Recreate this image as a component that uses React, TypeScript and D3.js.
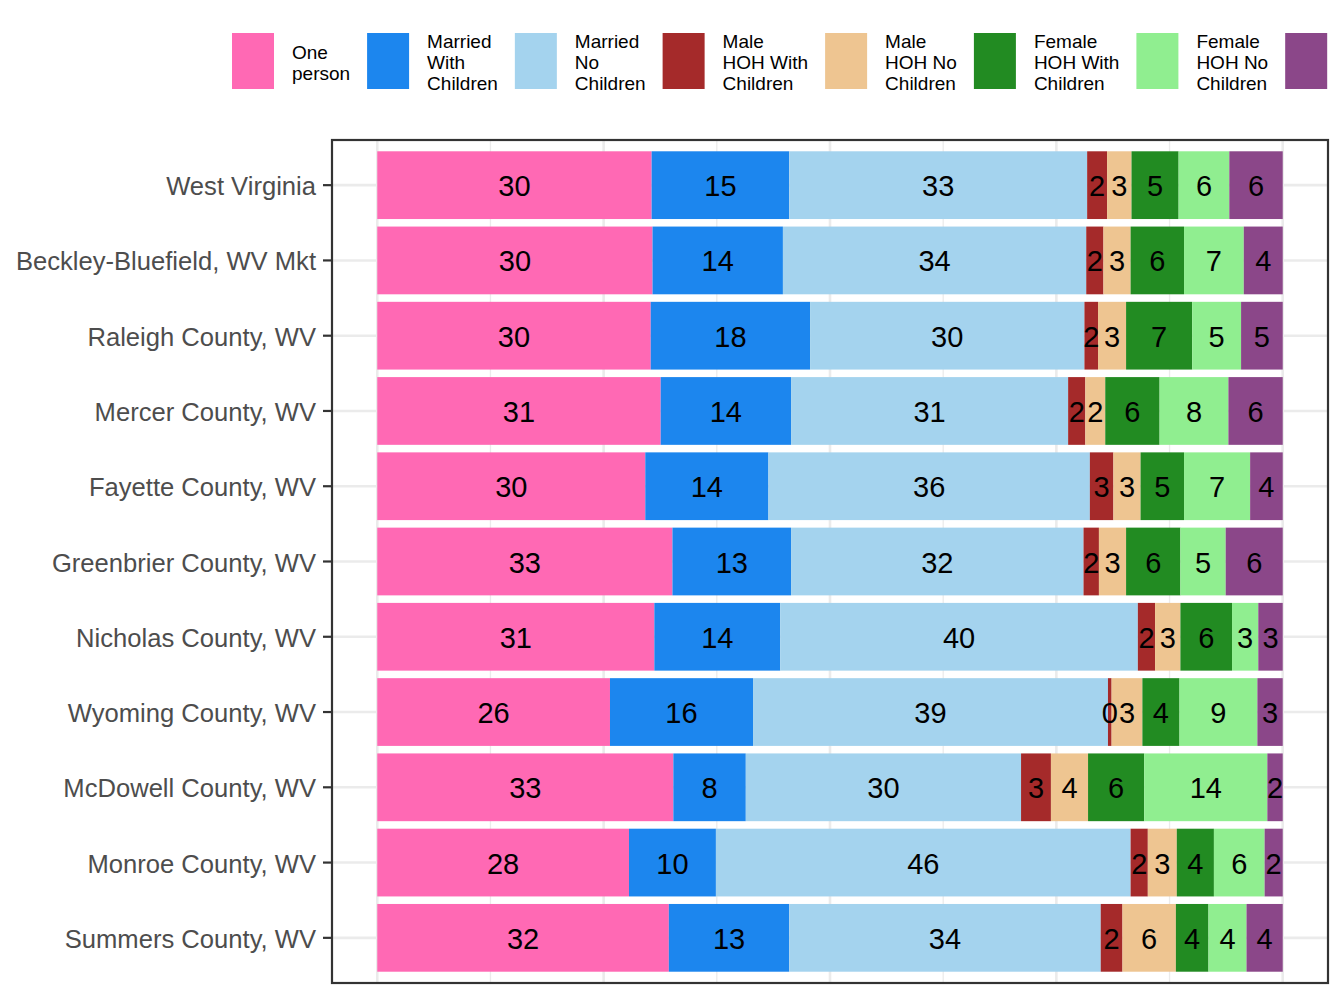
import { useMemo } from "react";
import * as d3 from "d3";

/* ------------------------------------------------------------------ */
/*  Data (percent of households)                  */
/* ------------------------------------------------------------------ */

const categories = [
  "West Virginia",
  "Beckley-Bluefield, WV Mkt",
  "Raleigh County, WV",
  "Mercer County, WV",
  "Fayette County, WV",
  "Greenbrier County, WV",
  "Nicholas County, WV",
  "Wyoming County, WV",
  "McDowell County, WV",
  "Monroe County, WV",
  "Summers County, WV",
];

const seriesKeys = [
  "One person",
  "Married With Children",
  "Married No Children",
  "Male HOH With Children",
  "Male HOH No Children",
  "Female HOH With Children",
  "Female HOH No Children",
  "Other",
];

// the last key's label falls outside the picture in the original, so it stays blank
const legendLabels = [
  ["One", "person"],
  ["Married", "With", "Children"],
  ["Married", "No", "Children"],
  ["Male", "HOH With", "Children"],
  ["Male", "HOH No", "Children"],
  ["Female", "HOH With", "Children"],
  ["Female", "HOH No", "Children"],
  [""],
];

const seriesColors = [
  "#FF69B4",
  "#1C86EE",
  "#A4D3EE",
  "#A52A2A",
  "#EEC591",
  "#228B22",
  "#90EE90",
  "#8B4789",
];

const onePerson = [30.3, 30.4, 30.2, 31.3, 29.6, 32.6, 30.6, 25.7, 32.7, 27.8, 32.2];
const marriedWith = [15.2, 14.4, 17.6, 14.4, 13.6, 13.1, 13.9, 15.8, 8.0, 9.6, 13.3];
const marriedNo = [32.9, 33.5, 30.3, 30.6, 35.5, 32.3, 39.5, 39.2, 30.4, 45.8, 34.4];
const maleWith = [2.2, 1.9, 1.5, 1.9, 2.6, 1.7, 1.9, 0.4, 3.3, 1.9, 2.4];
const maleNo = [2.7, 3.0, 3.1, 2.2, 3.0, 3.0, 2.8, 3.4, 4.1, 3.2, 5.9];
const femaleWith = [5.2, 5.9, 7.3, 6.0, 4.8, 6.0, 5.7, 4.1, 6.2, 4.1, 3.6];
const femaleNo = [5.6, 6.6, 5.4, 7.6, 7.3, 5.0, 2.9, 8.6, 13.6, 5.6, 4.2];
const other = [5.9, 4.3, 4.6, 6.0, 3.6, 6.3, 2.7, 2.8, 1.7, 2.0, 4.0];

const seriesValues = [onePerson, marriedWith, marriedNo, maleWith, maleNo, femaleWith, femaleNo, other];

const majorTicks = [0, 25, 50, 75, 100];
const minorTicks = [12.5, 37.5, 62.5, 87.5];

/* ------------------------------------------------------------------ */
/*  Layout                                                            */
/* ------------------------------------------------------------------ */

const W = 1344;
const H = 1008;
const panel = { left: 332, right: 1328, top: 140, bottom: 983 };
const FONT = "'Liberation Sans', Arial, sans-serif";

const legendFontSize = 19;
const legendKey = { w: 42, h: 56, top: 33 };
const legendStart = 232;

function textWidth(s: string, size: number) {
  const ctx = document.createElement("canvas").getContext("2d");
  if (!ctx) return s.length * size * 0.5;
  ctx.font = `${size}px ${FONT}`;
  return ctx.measureText(s).width;
}

export default function App() {
  const rows = useMemo(
    () =>
      categories.map((name, i) => {
        const row: Record<string, number | string> = { name };
        seriesKeys.forEach((k, j) => (row[k] = seriesValues[j][i]));
        return row;
      }),
    [],
  );

  const stacked = useMemo(
    () => d3.stack<Record<string, number | string>>().keys(seriesKeys)(rows as any),
    [rows],
  );

  const x = d3.scaleLinear().domain([-5, 105]).range([panel.left, panel.right]);
  const y = d3
    .scaleBand<string>()
    .domain(categories)
    .range([panel.top, panel.bottom])
    .paddingInner(0.1)
    .paddingOuter(0.15);

  // legend positions from label widths
  const legendItems = useMemo(() => {
    let cx = legendStart;
    return legendLabels.map((lines, i) => {
      const w = Math.max(...lines.map((l) => textWidth(l, legendFontSize)));
      const item = { x: cx, lines, color: seriesColors[i] };
      cx += legendKey.w + 18 + w + 17;
      return item;
    });
  }, []);

  const lineH = 21;
  const legendMid = legendKey.top + legendKey.h / 2 + 1.5;

  return (
    <svg
      width={W}
      height={H}
      style={{ position: "absolute", left: 0, top: 0, background: "#fff" }}
      fontFamily={FONT}
    >
      {/* Legend */}
      {legendItems.map((it, i) => (
        <g key={i}>
          <rect x={it.x} y={legendKey.top} width={legendKey.w} height={legendKey.h} fill={it.color} />
          <text fontSize={legendFontSize} fill="#000">
            {it.lines.map((l, j) => (
              <tspan
                key={j}
                x={it.x + legendKey.w + 18}
                y={legendMid + (j - (it.lines.length - 1) / 2) * lineH}
                dominantBaseline="central"
              >
                {l}
              </tspan>
            ))}
          </text>
        </g>
      ))}

      {/* Grid */}
      {minorTicks.map((t) => (
        <line key={`mn${t}`} x1={x(t)} x2={x(t)} y1={panel.top} y2={panel.bottom} stroke="#EBEBEB" strokeWidth={1.3} />
      ))}
      {majorTicks.map((t) => (
        <line key={`mj${t}`} x1={x(t)} x2={x(t)} y1={panel.top} y2={panel.bottom} stroke="#EBEBEB" strokeWidth={2.6} />
      ))}
      {categories.map((c) => {
        const cy = (y(c) ?? 0) + y.bandwidth() / 2;
        return (
          <line key={`h${c}`} x1={panel.left} x2={panel.right} y1={cy} y2={cy} stroke="#EBEBEB" strokeWidth={2.6} />
        );
      })}

      {/* Bars */}
      {stacked.map((layer, j) => (
        <g key={layer.key} fill={seriesColors[j]}>
          {layer.map((d, i) => (
            <rect
              key={i}
              x={x(d[0])}
              width={x(d[1]) - x(d[0])}
              y={y(categories[i])}
              height={y.bandwidth()}
            />
          ))}
        </g>
      ))}

      {/* Value labels */}
      {stacked.map((layer) => (
        <g key={`t${layer.key}`} fontSize={29} fill="#000" textAnchor="middle">
          {layer.map((d, i) => (
            <text
              key={i}
              x={x((d[0] + d[1]) / 2)}
              y={(y(categories[i]) ?? 0) + y.bandwidth() / 2 + 1}
              dominantBaseline="central"
            >
              {Math.round(d[1] - d[0])}
            </text>
          ))}
        </g>
      ))}

      {/* Panel border */}
      <rect
        x={panel.left}
        y={panel.top}
        width={panel.right - panel.left}
        height={panel.bottom - panel.top}
        fill="none"
        stroke="#333333"
        strokeWidth={2.2}
      />

      {/* Y axis */}
      {categories.map((c) => {
        const cy = (y(c) ?? 0) + y.bandwidth() / 2;
        return (
          <g key={`y${c}`}>
            <line x1={panel.left - 9} x2={panel.left} y1={cy} y2={cy} stroke="#333333" strokeWidth={2.2} />
            <text
              x={panel.left - 16}
              y={cy + 1}
              textAnchor="end"
              dominantBaseline="central"
              fontSize={25.6}
              fill="#4D4D4D"
            >
              {c}
            </text>
          </g>
        );
      })}
    </svg>
  );
}
